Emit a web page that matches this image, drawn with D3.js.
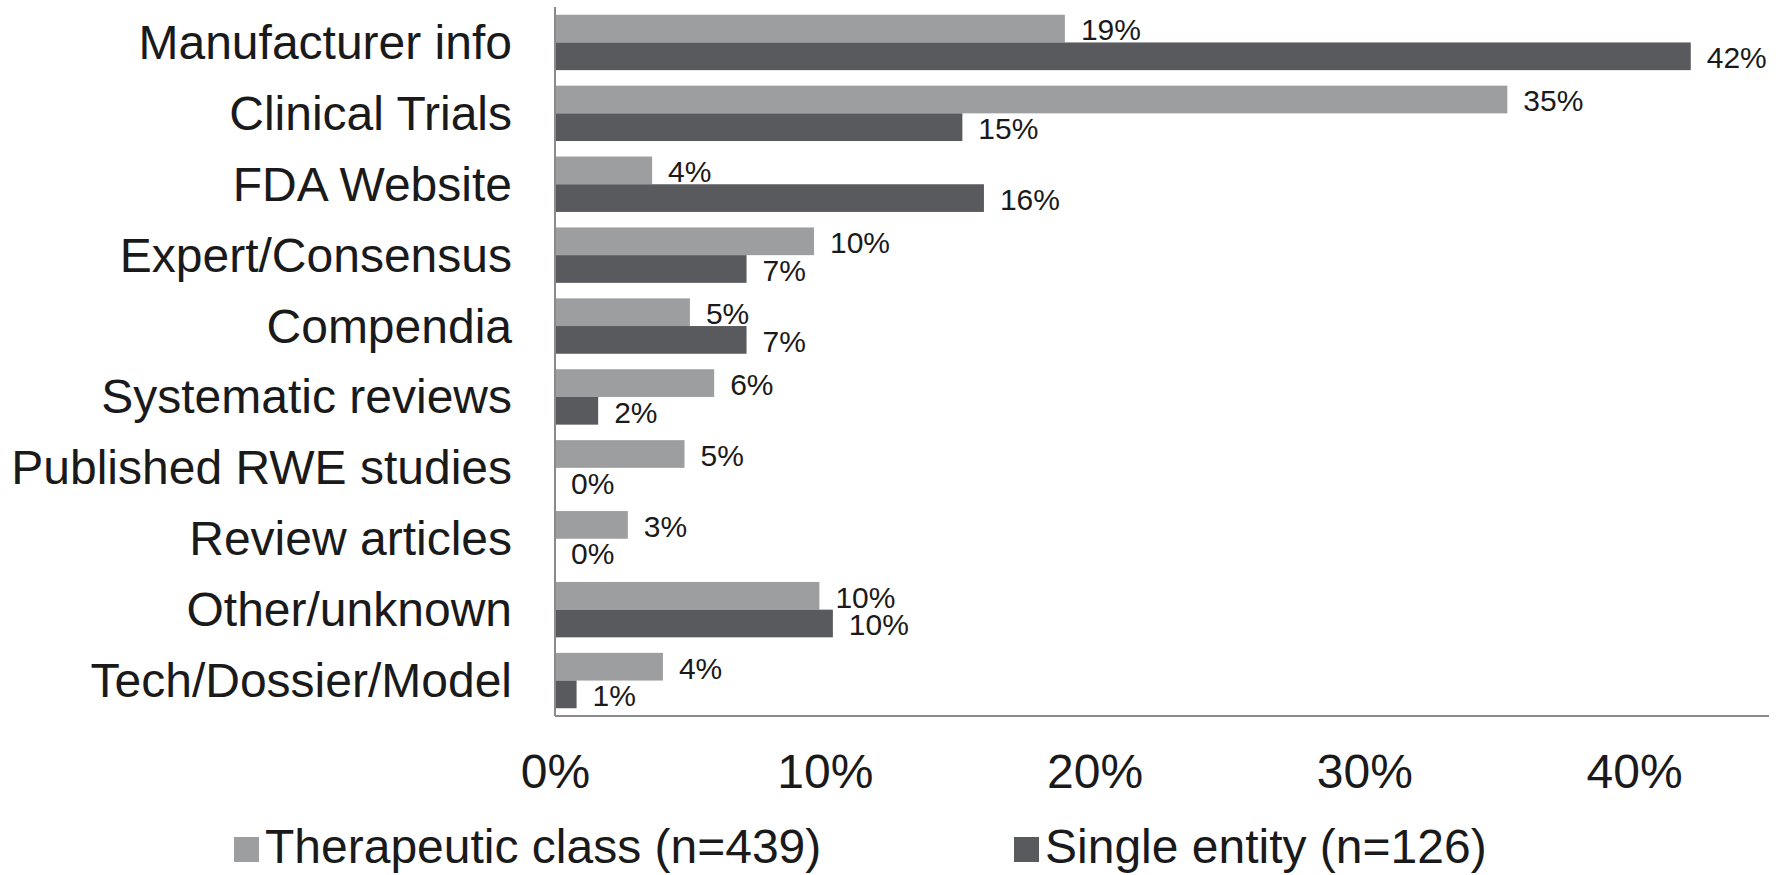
<!DOCTYPE html>
<html>
<head>
<meta charset="utf-8">
<script src="https://cdn.jsdelivr.net/npm/d3@7"></script>
<style>
  html, body { margin: 0; padding: 0; background: #ffffff; }
  svg { display: block; }
  text { font-family: "Liberation Sans", Arial, sans-serif; fill: #1a1a1a; }
</style>
</head>
<body>
<svg id="chart" width="1791" height="875"></svg>
<script>
// ---- data ----
const categories = [
  "Manufacturer info", "Clinical Trials", "FDA Website", "Expert/Consensus",
  "Compendia", "Systematic reviews", "Published RWE studies", "Review articles",
  "Other/unknown", "Tech/Dossier/Model"
];
const seriesNames = ["Therapeutic class (n=439)", "Single entity (n=126)"];
const therapeuticClass = [18.9, 35.3, 3.6, 9.6, 5.0, 5.9, 4.8, 2.7, 9.8, 4.0];
const singleEntity     = [42.1, 15.1, 15.9, 7.1, 7.1, 1.6, 0.0, 0.0, 10.3, 0.8];
const xTickValues = [0, 10, 20, 30, 40];
const xDomainMax = 45;

// ---- styles ----
const seriesColors = ["#9d9ea0", "#595a5e"];
const axisColor = "#8a8a8a";

const svg = d3.select("#chart");
const plot = { left: 555, right: 1769, top: 7, bottom: 716 };

const x = d3.scaleLinear().domain([0, xDomainMax]).range([plot.left, plot.right]);
const y = d3.scaleBand().domain(categories).range([plot.top, plot.bottom]).paddingInner(0).paddingOuter(0);
const ySub = d3.scaleBand().domain(seriesNames).range([0, y.bandwidth()]).paddingInner(0).paddingOuter(0.28);

const rows = categories.map((c, i) => ({
  cat: c,
  vals: [
    { s: seriesNames[0], v: therapeuticClass[i], k: 0 },
    { s: seriesNames[1], v: singleEntity[i], k: 1 }
  ]
}));

// bars
const g = svg.append("g");
const groups = g.selectAll("g.cat").data(rows).join("g")
  .attr("class", "cat")
  .attr("transform", d => `translate(0,${y(d.cat)})`);

groups.selectAll("rect").data(d => d.vals).join("rect")
  .attr("x", x(0))
  .attr("y", d => ySub(d.s))
  .attr("width", d => x(d.v) - x(0))
  .attr("height", ySub.bandwidth())
  .attr("fill", d => seriesColors[d.k]);

// value labels
groups.selectAll("text.val").data(d => d.vals).join("text")
  .attr("class", "val")
  .attr("x", d => x(d.v) + 16)
  .attr("y", d => ySub(d.s) + ySub.bandwidth() - 2)
  .attr("font-size", 30)
  .text(d => Math.round(d.v) + "%");

// category labels (y axis)
const yAxis = d3.axisLeft(y).tickSize(0).tickPadding(43);
const yG = svg.append("g").attr("transform", `translate(${plot.left},0)`).call(yAxis);
yG.select(".domain").remove();
yG.selectAll("text")
  .attr("font-size", 48)
  .attr("dy", null)
  .attr("dominant-baseline", "central")
  .attr("fill", "#1a1a1a")
  .style("font-family", '"Liberation Sans", Arial, sans-serif');

// x axis tick labels
const xAxis = d3.axisBottom(x).tickValues(xTickValues).tickSize(0).tickPadding(38)
  .tickFormat(d => d + "%");
const xG = svg.append("g").attr("transform", `translate(0,${plot.bottom})`).call(xAxis);
xG.select(".domain").remove();
xG.selectAll("text")
  .attr("font-size", 48)
  .attr("fill", "#1a1a1a")
  .style("font-family", '"Liberation Sans", Arial, sans-serif');

// axis lines
svg.append("line")
  .attr("x1", plot.left).attr("x2", plot.left)
  .attr("y1", plot.top).attr("y2", plot.bottom)
  .attr("stroke", axisColor).attr("stroke-width", 2);
svg.append("line")
  .attr("x1", plot.left).attr("x2", plot.right)
  .attr("y1", plot.bottom).attr("y2", plot.bottom)
  .attr("stroke", axisColor).attr("stroke-width", 2);

// legend
const legendX = [234, 1014];
const legend = svg.append("g");
const items = legend.selectAll("g").data(seriesNames).join("g")
  .attr("transform", (d, i) => `translate(${legendX[i]},837)`);
items.append("rect")
  .attr("width", 25).attr("height", 25)
  .attr("fill", (d, i) => seriesColors[i]);
items.append("text")
  .attr("x", 31).attr("y", 26)
  .attr("font-size", 48)
  .text(d => d);
</script>
</body>
</html>
